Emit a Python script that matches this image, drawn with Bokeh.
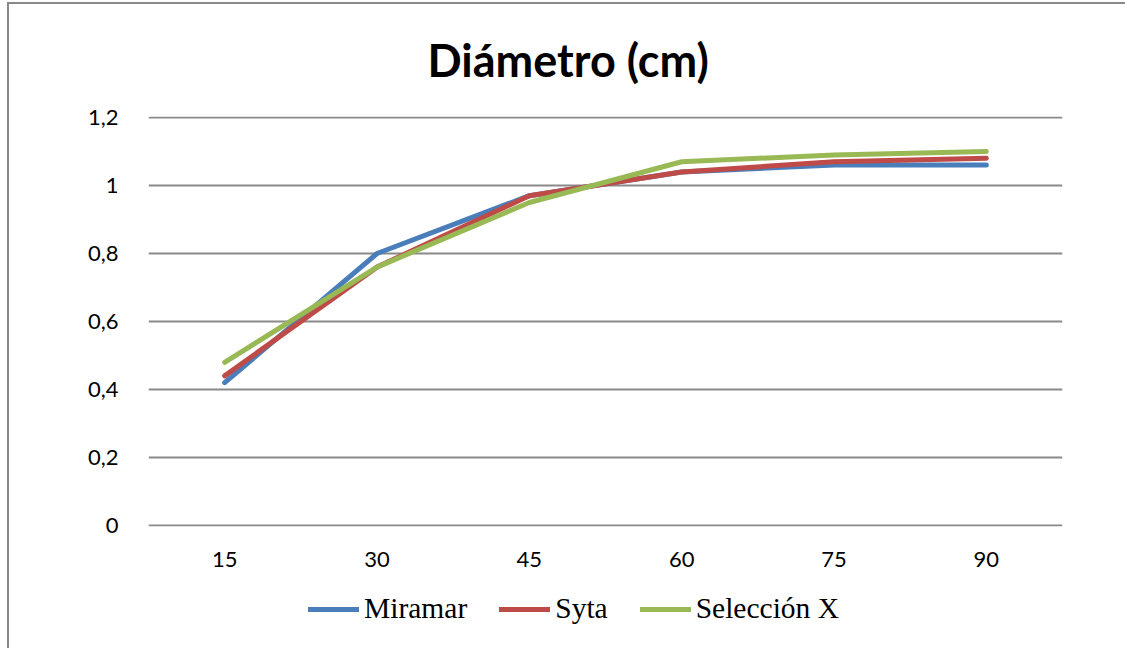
from bokeh.plotting import figure
from bokeh.layouts import column
from bokeh.models import (ColumnDataSource, FactorRange, Range1d, FixedTicker,
                          Legend, LegendItem, Title)
from bokeh.embed import file_html
from bokeh.resources import INLINE

# ---- data ----
categories = ["15", "30", "45", "60", "75", "90"]
miramar = [0.42, 0.80, 0.97, 1.04, 1.06, 1.06]
syta = [0.44, 0.76, 0.97, 1.04, 1.07, 1.08]
seleccion_x = [0.48, 0.76, 0.95, 1.07, 1.09, 1.10]
series_names = ["Miramar", "Syta", "Selección X"]
y_ticks = [0, 0.2, 0.4, 0.6, 0.8, 1, 1.2]
y_tick_labels = ["0", "0,2", "0,4", "0,6", "0,8", "1", "1,2"]
title_text = "Diámetro (cm)"

colors = ["#4A7EBB", "#BE4B48", "#98B954"]

W, H1, H2 = 1116, 583, 61
p = figure(x_range=FactorRange(*categories, range_padding=0),
           y_range=Range1d(-0.003, 1.203),
           width=W, height=H1, output_backend="svg", toolbar_location=None,
           min_border_left=139, min_border_right=63, min_border_top=112,
           min_border_bottom=61)
p.outline_line_color = None
p.background_fill_color = "white"
p.border_fill_color = "white"

src = ColumnDataSource(dict(x=categories, m=miramar, s=syta, sel=seleccion_x))
for col, c in zip(["m", "s", "sel"], colors):
    p.line("x", col, source=src, line_color=c, line_width=5,
           line_cap="round", line_join="round")

# grid
p.xgrid.grid_line_color = None
p.ygrid.grid_line_color = "#8a8a8a"
p.ygrid.grid_line_width = 2
p.ygrid.ticker = FixedTicker(ticks=y_ticks)

# axes
p.yaxis.ticker = FixedTicker(ticks=y_ticks)
p.yaxis.major_label_overrides = {t: l for t, l in zip(y_ticks, y_tick_labels)}
for ax in (p.xaxis[0], p.yaxis[0]):
    ax.axis_line_color = None
    ax.major_tick_line_color = None
    ax.minor_tick_line_color = None
    ax.major_tick_out = 0
    ax.major_tick_in = 0
    ax.major_label_text_font = "Lato"
    ax.major_label_text_font_size = "22px"
    ax.major_label_text_color = "black"
p.yaxis.major_label_standoff = 30
p.xaxis.major_label_standoff = 25

# title
t = Title(text=title_text, align="left", offset=279, text_font="Lato",
          text_font_style="bold", text_font_size="45px", text_color="black",
          vertical_align="top", standoff=56)
p.add_layout(t, "above")

# legend in a strip figure below the chart (frames are aligned by the column)
p2 = figure(x_range=Range1d(0, 1), y_range=Range1d(0, 1), width=W, height=H2,
            output_backend="svg", toolbar_location=None,
            x_axis_type=None, y_axis_type=None,
            min_border_left=0, min_border_right=0, min_border_top=0,
            min_border_bottom=0)
p2.outline_line_color = None
p2.xgrid.grid_line_color = None
p2.ygrid.grid_line_color = None
p2.border_fill_color = "white"
nan = float("nan")
keys = [p2.line(x=[nan], y=[nan], line_color=c, line_width=5, line_cap="round")
        for c in colors]
items = [LegendItem(label=n, renderers=[r]) for n, r in zip(series_names, keys)]
leg = Legend(items=items, orientation="horizontal", location=(160, 23),
             glyph_width=51, glyph_height=32, label_height=32, label_standoff=5,
             spacing=32, padding=0, margin=0, border_line_alpha=0,
             background_fill_alpha=0, label_text_font="Liberation Serif",
             label_text_font_size="29.5px", label_text_color="black")
p2.add_layout(leg, "center")

layout = column(p, p2, spacing=0,
                styles={"margin-left": "7px", "margin-top": "2px",
                        "border-left": "2px solid #898989",
                        "border-top": "2px solid #898989"})

open("out.html", "w").write(file_html(layout, INLINE))
